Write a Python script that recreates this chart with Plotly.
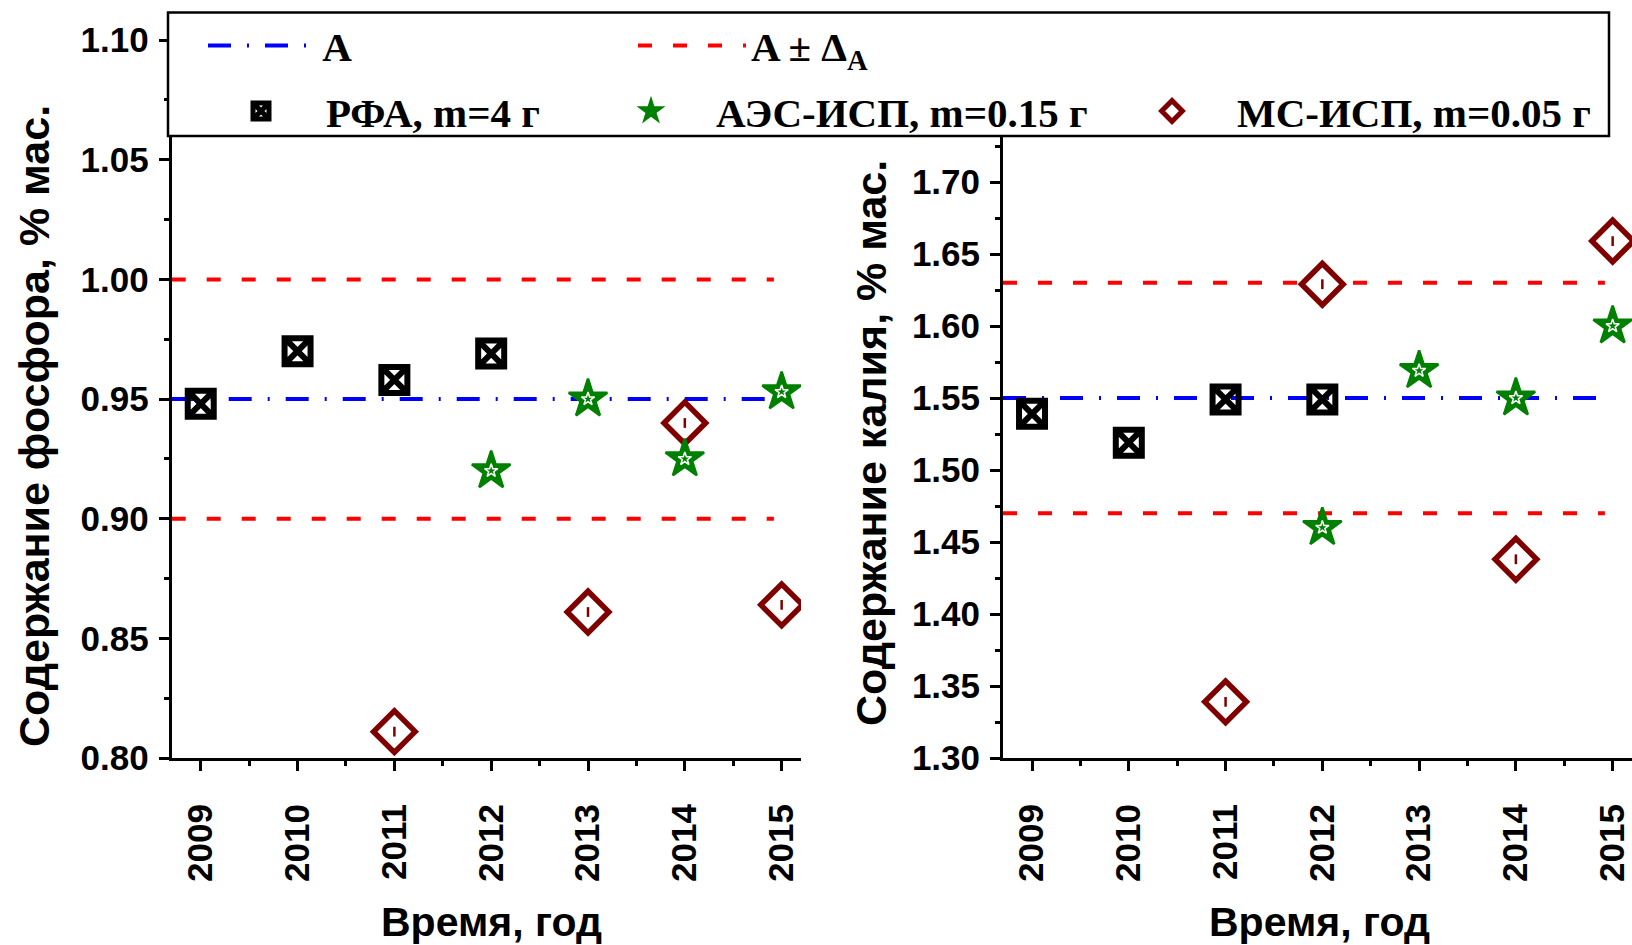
import plotly.graph_objects as go

# ---------------- data ----------------
years = [2009, 2010, 2011, 2012, 2013, 2014, 2015]

P_rfa_years = [2009, 2010, 2011, 2012]
P_rfa = [0.948, 0.970, 0.958, 0.969]
P_aes_years = [2012, 2013, 2014, 2015]
P_aes = [0.920, 0.950, 0.925, 0.953]
P_ms_years = [2011, 2013, 2014, 2015]
P_ms = [0.811, 0.861, 0.940, 0.864]
P_A = 0.95
P_delta = 0.05
P_ticks = [0.80, 0.85, 0.90, 0.95, 1.00, 1.05, 1.10]

K_rfa_years = [2009, 2010, 2011, 2012]
K_rfa = [1.539, 1.519, 1.549, 1.549]
K_aes_years = [2012, 2013, 2014, 2015]
K_aes = [1.460, 1.569, 1.550, 1.600]
K_ms_years = [2011, 2012, 2014, 2015]
K_ms = [1.339, 1.629, 1.438, 1.659]
K_A = 1.55
K_delta = 0.08
K_ticks = [1.30, 1.35, 1.40, 1.45, 1.50, 1.55, 1.60, 1.65, 1.70]

line_x = [2008.7, 2014.92]

names = ["A", "A ± Δ<sub>A</sub>", "РФА, m=4 г", "АЭС-ИСП, m=0.15 г", "МС-ИСП, m=0.05 г"]

# ---------------- styles ----------------
W, H = 1632, 945
BLUE = "#0000FF"
RED = "#FF0000"
GREEN = "#008000"
DRED = "#800000"
BLUE_DASH = "23px,16px,2px,16px"
RED_DASH = "14px,21px"

fig = go.Figure()


def panel(xa, ya, A, d, rfa_x, rfa_y, aes_x, aes_y, ms_x, ms_y, sl):
    fig.add_trace(go.Scatter(x=line_x, y=[A, A], mode="lines", xaxis=xa, yaxis=ya,
                             line=dict(color=BLUE, width=4, dash=BLUE_DASH),
                             name="\u00a0" + names[0], showlegend=sl, legend="legend"))
    fig.add_trace(go.Scatter(x=line_x, y=[A + d, A + d], mode="lines", xaxis=xa, yaxis=ya,
                             line=dict(color=RED, width=4, dash=RED_DASH),
                             name=names[1], showlegend=sl, legend="legend2"))
    fig.add_trace(go.Scatter(x=line_x, y=[A - d, A - d], mode="lines", xaxis=xa, yaxis=ya,
                             line=dict(color=RED, width=4, dash=RED_DASH),
                             showlegend=False))
    fig.add_trace(go.Scatter(x=rfa_x, y=rfa_y, mode="markers", xaxis=xa, yaxis=ya,
                             marker=dict(symbol="square-x-open", size=26, color="black",
                                         line=dict(color="black", width=6)),
                             name=names[2], showlegend=sl, legend="legend3"))
    fig.add_trace(go.Scatter(x=ms_x, y=ms_y, mode="markers", xaxis=xa, yaxis=ya,
                             marker=dict(symbol="diamond", size=32, color="white",
                                         line=dict(color=DRED, width=5.5)),
                             name=names[4], showlegend=sl, legend="legend5"))
    fig.add_trace(go.Scatter(x=ms_x, y=ms_y, mode="markers", xaxis=xa, yaxis=ya,
                             marker=dict(symbol="line-ns", size=7, color=DRED,
                                         line=dict(color=DRED, width=2.5)),
                             showlegend=False, hoverinfo="skip"))
    fig.add_trace(go.Scatter(x=aes_x, y=aes_y, mode="markers", xaxis=xa, yaxis=ya,
                             marker=dict(symbol="star", size=29, color=GREEN,
                                         line=dict(color=GREEN, width=2.5)),
                             name=names[3], showlegend=sl, legend="legend4"))
    fig.add_trace(go.Scatter(x=aes_x, y=aes_y, mode="markers", xaxis=xa, yaxis=ya,
                             marker=dict(symbol="star-open", size=10, color="white",
                                         line=dict(color="white", width=1.5)),
                             showlegend=False, hoverinfo="skip"))


panel("x", "y", P_A, P_delta, P_rfa_years, P_rfa, P_aes_years, P_aes, P_ms_years, P_ms, True)
panel("x2", "y2", K_A, K_delta, K_rfa_years, K_rfa, K_aes_years, K_aes, K_ms_years, K_ms, False)

tickfont = dict(family="Liberation Sans, Arial, sans-serif", size=35, color="black", weight="bold")
titlefont_y = dict(family="Liberation Sans, Arial, sans-serif", size=43, color="black", weight="bold")
titlefont_x = dict(family="Liberation Sans, Arial, sans-serif", size=41, color="black", weight="bold")
legfont = dict(family="Liberation Serif, Times New Roman, serif", size=41, color="black", weight="bold")

y_top = 1 - 12.5 / H
y_bot = 1 - 758 / H

xcommon = dict(range=[2008.7, 2015.2], tickmode="array", tickvals=years,
               ticktext=[str(y) for y in years],
               showline=True, linecolor="black", linewidth=3, showgrid=False, zeroline=False,
               ticks="outside", ticklen=10, tickwidth=3, tickcolor="black",
               tickangle=-90, tickfont=tickfont, ticklabelstandoff=19, automargin=False,
               minor=dict(ticks="outside", ticklen=5, tickwidth=3, tickcolor="black",
                          tick0=2009, dtick=0.5, showgrid=False))
ycommon = dict(tickmode="array",
               showline=True, linecolor="black", linewidth=3, showgrid=False, zeroline=False,
               ticks="outside", ticklen=10, tickwidth=3, tickcolor="black",
               tickfont=tickfont, ticklabelstandoff=3, automargin=False,
               domain=[y_bot, y_top])

fig.update_layout(
    width=W, height=H, autosize=False,
    margin=dict(l=0, r=0, t=0, b=0, pad=0, autoexpand=False),
    paper_bgcolor="white", plot_bgcolor="white",
    xaxis=dict(domain=[171.7 / W, 801 / W], anchor="y", **xcommon),
    yaxis=dict(range=[0.80, 0.80 + 745.5 / 2393], anchor="x",
               tickvals=P_ticks, ticktext=[f"{v:.2f}" for v in P_ticks],
               minor=dict(ticks="outside", ticklen=5, tickwidth=3, tickcolor="black",
                          tick0=0.80, dtick=0.025, showgrid=False), **ycommon),
    xaxis2=dict(domain=[1003 / W, 1.0], anchor="y2", **xcommon),
    yaxis2=dict(range=[1.30, 1.30 + 745.5 / 1440], anchor="x2",
                tickvals=K_ticks, ticktext=[f"{v:.2f}" for v in K_ticks],
                minor=dict(ticks="outside", ticklen=5, tickwidth=3, tickcolor="black",
                           tick0=1.30, dtick=0.025, showgrid=False), **ycommon),
    showlegend=True,
)

common_leg = dict(xanchor="left", yanchor="middle", bgcolor="rgba(0,0,0,0)",
                  borderwidth=0, font=legfont, orientation="v")
fig.update_layout(
    legend=dict(x=203 / W, y=1 - 45.8 / H, itemwidth=99, **common_leg),
    legend2=dict(x=633 / W, y=1 - 45.8 / H, itemwidth=108, **common_leg),
    legend3=dict(x=196 / W, y=1 - 111.4 / H, itemwidth=120, **common_leg),
    legend4=dict(x=586 / W, y=1 - 111.4 / H, itemwidth=120, **common_leg),
    legend5=dict(x=1107 / W, y=1 - 111.4 / H, itemwidth=120, **common_leg),
)

# legend frame
fig.add_shape(type="rect", xref="paper", yref="paper",
              x0=168 / W, x1=1609 / W, y0=1 - 136 / H, y1=1 - 12.5 / H,
              line=dict(color="black", width=2.5), fillcolor="white", layer="above")

# axis titles
ann = [
    dict(text="Содержание фосфора, % мас.", x=34 / W, y=1 - 426 / H, textangle=-90, font=titlefont_y),
    dict(text="Содержание калия, % мас.", x=871 / W, y=1 - 443 / H, textangle=-90, font=titlefont_y),
    dict(text="Время, год", x=491 / W, y=1 - 922 / H, textangle=0, font=titlefont_x),
    dict(text="Время, год", x=1319 / W, y=1 - 922 / H, textangle=0, font=titlefont_x),
]
for a in ann:
    fig.add_annotation(xref="paper", yref="paper", xanchor="center", yanchor="middle",
                       showarrow=False, **a)

fig.write_html("out.html")
